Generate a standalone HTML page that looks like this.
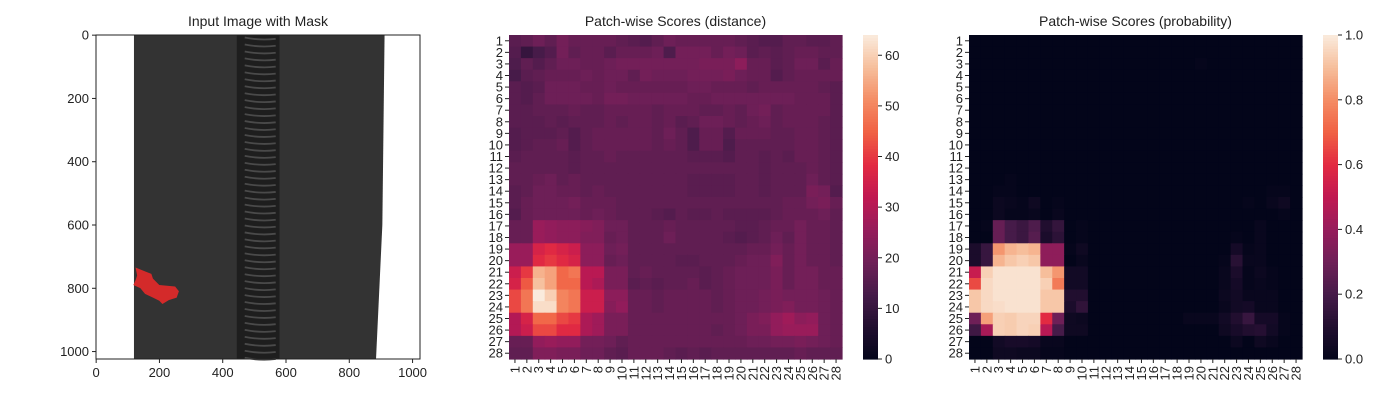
<!DOCTYPE html>
<html><head><meta charset="utf-8">
<style>
html,body{margin:0;padding:0;background:#fff;}
svg{display:block;font-family:"Liberation Sans",Arial,sans-serif;}
</style></head>
<body>
<svg id="fig" width="1400" height="400" viewBox="0 0 1400 400" xmlns="http://www.w3.org/2000/svg"></svg>
<script>
// ---------- data ----------
const rowLabels = [1,2,3,4,5,6,7,8,9,10,11,12,13,14,15,16,17,18,19,20,21,22,23,24,25,26,27,28];
const colLabels = [1,2,3,4,5,6,7,8,9,10,11,12,13,14,15,16,17,18,19,20,21,22,23,24,25,26,27,28];
const distTicks = [0,10,20,30,40,50,60];
const probTicks = [0.0,0.2,0.4,0.6,0.8,1.0];
const imgTicks = [0,200,400,600,800,1000];
const distMax = 64;
const distance = [
[16,17,19,17,20,18,18,18,18,17,16,15,17,19,18,18,18,18,18,17,16,15,15,17,17,16,16,17],
[15,10,13,15,20,17,18,18,16,18,18,18,19,14,20,20,20,18,20,19,16,17,16,17,18,18,17,17],
[14,17,15,17,19,19,18,18,19,20,20,20,20,20,20,20,21,21,21,24,18,18,16,17,19,19,16,18],
[13,16,17,18,18,18,19,18,19,19,17,20,19,19,19,20,20,20,21,19,18,18,15,17,18,18,18,18],
[16,15,16,19,19,19,18,18,19,18,18,18,18,18,18,19,19,18,18,18,17,18,18,18,18,18,17,16],
[16,15,17,19,19,19,19,18,20,20,19,19,19,19,19,18,18,19,19,19,19,19,19,19,18,18,18,16],
[16,16,17,17,17,18,17,17,18,18,18,18,17,18,18,18,17,17,18,17,19,20,17,18,18,18,18,16],
[16,16,16,17,16,17,17,17,18,17,18,18,17,18,16,17,19,19,18,17,18,19,17,18,18,18,17,16],
[15,16,16,16,17,15,17,18,18,18,18,18,17,19,17,14,18,18,15,18,18,18,17,17,18,18,17,16],
[15,16,17,17,18,15,17,18,18,18,18,18,17,18,17,14,18,18,14,17,17,17,17,17,18,18,17,16],
[16,17,17,17,17,16,17,17,18,17,17,17,17,17,17,16,16,16,15,17,17,16,17,16,18,18,17,16],
[17,17,17,17,17,16,17,17,17,17,17,17,17,17,17,17,17,17,17,17,17,16,17,17,17,18,17,16],
[17,17,18,19,17,18,17,17,17,17,17,17,17,17,17,16,16,16,16,17,17,16,17,17,17,19,17,16],
[16,17,19,19,18,18,17,18,17,17,17,17,17,17,17,16,16,16,16,17,17,16,17,17,17,21,20,15],
[16,18,19,19,19,20,18,18,18,17,17,17,17,17,17,17,17,17,17,17,17,17,17,18,18,20,21,18],
[15,18,19,19,19,19,18,19,18,17,17,17,16,15,17,16,16,17,16,16,16,16,17,18,18,18,19,17],
[18,18,26,25,24,24,23,22,19,19,17,17,17,18,17,17,17,17,17,16,16,17,18,18,20,18,18,17],
[18,18,26,25,24,24,22,22,18,19,17,17,17,19,17,17,17,17,16,15,16,17,19,17,20,18,18,17],
[26,26,36,38,36,34,24,24,19,20,17,17,17,17,17,17,17,17,17,17,18,18,20,18,20,18,18,17],
[26,26,38,40,38,36,24,24,18,19,17,17,17,17,16,16,17,17,17,18,19,19,22,18,20,18,18,17],
[34,40,56,54,46,48,31,31,21,21,17,18,17,17,17,17,16,17,18,19,19,19,21,18,20,20,18,18],
[36,44,58,54,46,46,31,29,21,21,16,17,16,17,17,18,16,17,18,19,19,19,21,18,20,20,18,18],
[42,48,64,60,50,48,34,34,24,24,18,18,17,18,18,18,18,17,18,19,19,20,21,20,20,20,19,18],
[42,48,62,62,50,48,34,34,23,25,18,18,17,18,18,18,18,17,18,19,19,20,21,22,20,20,19,18],
[30,36,46,46,42,40,29,27,21,21,18,18,18,18,18,18,18,18,18,19,21,22,25,27,24,25,19,18],
[30,34,42,42,38,38,29,27,21,21,18,18,18,18,18,18,18,17,18,19,21,21,25,26,26,26,19,18],
[18,18,25,26,25,25,20,20,19,17,18,18,18,18,18,18,18,18,18,18,19,19,20,20,21,20,19,18],
[17,17,22,22,21,21,19,19,17,16,18,18,18,17,16,17,16,17,17,17,17,17,17,17,18,17,17,17]
];
const probability = [
[0,0,0,0,0,0,0,0,0,0,0,0,0,0,0,0,0,0,0,0,0,0,0,0,0,0,0,0],
[0,0,0,0,0,0,0,0,0,0,0,0,0,0,0,0,0,0,0,0,0,0,0,0,0,0,0,0],
[0,0,0,0,0,0,0,0,0,0,0,0,0,0,0,0,0,0,0,0.01,0,0,0,0,0,0,0,0],
[0,0,0,0,0,0,0,0,0,0,0,0,0,0,0,0,0,0,0,0,0,0,0,0,0,0,0,0],
[0,0,0,0,0,0,0,0,0,0,0,0,0,0,0,0,0,0,0,0,0,0,0,0,0,0,0,0],
[0,0,0,0,0,0,0,0,0,0,0,0,0,0,0,0,0,0,0,0,0,0,0,0,0,0,0,0],
[0,0,0,0,0,0,0,0,0,0,0,0,0,0,0,0,0,0,0,0,0,0,0,0,0,0,0,0],
[0,0,0,0,0,0,0,0,0,0,0,0,0,0,0,0,0,0,0,0,0,0,0,0,0,0,0,0],
[0,0,0,0,0,0,0,0,0,0,0,0,0,0,0,0,0,0,0,0,0,0,0,0,0,0,0,0],
[0,0,0,0,0,0,0,0,0,0,0,0,0,0,0,0,0,0,0,0,0,0,0,0,0,0,0,0],
[0,0,0,0,0,0,0,0,0,0,0,0,0,0,0,0,0,0,0,0,0,0,0,0,0,0,0,0],
[0,0,0,0,0,0,0,0,0,0,0,0,0,0,0,0,0,0,0,0,0,0,0,0,0,0,0,0],
[0,0,0,0.01,0,0,0,0,0,0,0,0,0,0,0,0,0,0,0,0,0,0,0,0,0,0,0,0],
[0,0,0.01,0.01,0,0,0,0,0,0,0,0,0,0,0,0,0,0,0,0,0,0,0,0,0,0.01,0.01,0],
[0,0,0.03,0.02,0.01,0.04,0,0.01,0,0,0,0,0,0,0,0,0,0,0,0,0,0,0,0.01,0,0.02,0.04,0],
[0,0,0.03,0.01,0.01,0.02,0,0.02,0,0,0,0,0,0,0,0,0,0,0,0,0,0,0,0,0,0,0.01,0],
[0,0.01,0.28,0.2,0.17,0.22,0.1,0.15,0,0.01,0,0,0,0,0,0,0,0,0,0,0,0,0,0,0.02,0,0,0],
[0,0,0.28,0.2,0.17,0.24,0.08,0.13,0,0.01,0,0,0,0,0,0,0,0,0,0,0,0,0.01,0,0.02,0,0,0],
[0.08,0.16,0.82,0.88,0.9,0.88,0.38,0.38,0.01,0.04,0,0,0,0,0,0,0,0,0,0,0,0,0.06,0.01,0.02,0,0,0],
[0.08,0.16,0.88,0.92,0.94,0.92,0.38,0.38,0,0.02,0,0,0,0,0,0,0,0,0,0,0,0.01,0.12,0.02,0.02,0,0,0],
[0.52,0.94,0.98,0.98,0.98,0.98,0.9,0.82,0.05,0.05,0,0,0,0,0,0,0,0,0,0,0,0.02,0.08,0.01,0.03,0.01,0,0],
[0.66,0.96,0.98,0.98,0.98,0.98,0.94,0.76,0.05,0.05,0,0,0,0,0,0,0,0,0,0,0,0.02,0.06,0.01,0.02,0.01,0,0],
[0.92,0.96,0.98,0.98,0.98,0.98,0.92,0.92,0.1,0.1,0,0,0,0,0,0,0,0,0,0,0,0.03,0.05,0.02,0.02,0.02,0,0],
[0.92,0.96,0.97,0.98,0.98,0.98,0.92,0.92,0.08,0.14,0,0,0,0,0,0,0,0,0,0,0,0.02,0.05,0.06,0.02,0.02,0,0],
[0.3,0.84,0.94,0.93,0.95,0.95,0.6,0.3,0.04,0.03,0,0,0,0,0,0,0,0,0.02,0.02,0.02,0.05,0.1,0.16,0.06,0.06,0.01,0],
[0.18,0.44,0.94,0.93,0.95,0.94,0.48,0.2,0.04,0.04,0,0,0,0,0,0,0,0,0,0,0,0.04,0.07,0.1,0.11,0.05,0.01,0],
[0,0,0.05,0.07,0.07,0.06,0.02,0.02,0,0,0,0,0,0,0,0,0,0,0,0,0,0,0.03,0,0.04,0.02,0,0],
[0,0,0.04,0.04,0.03,0.03,0.01,0.01,0,0,0,0,0,0,0,0,0,0,0,0,0,0,0,0,0,0,0,0]
];
// mask blob outline in image pixel coords (x,y)
const maskX = [125,150,175,180,200,250,262,255,230,210,200,180,155,140,118,125,130];
const maskY = [735,745,755,770,790,795,810,830,838,850,840,830,818,800,790,775,760];

// ---------- helpers ----------
const NS = "http://www.w3.org/2000/svg";
const fig = document.getElementById('fig');
function el(tag, attrs, parent, text){
  const e = document.createElementNS(NS, tag);
  for (const k in attrs) e.setAttribute(k, attrs[k]);
  if (text !== undefined) e.textContent = text;
  (parent||fig).appendChild(e);
  return e;
}
const stops = [
 [0.0,[3,5,26]],[0.1,[33,14,47]],[0.2,[70,27,73]],[0.3,[110,31,87]],
 [0.4,[150,28,91]],[0.5,[192,24,82]],[0.6,[226,42,66]],[0.7,[240,96,67]],
 [0.8,[244,140,100]],[0.9,[246,190,155]],[1.0,[250,235,221]]];
function rocket(t){
  t=Math.max(0,Math.min(1,t));
  for(let i=1;i<stops.length;i++){
    if(t<=stops[i][0]){
      const a=stops[i-1],b=stops[i],f=(t-a[0])/(b[0]-a[0]);
      const c=a[1].map((v,j)=>Math.round(v+(b[1][j]-v)*f));
      return `rgb(${c[0]},${c[1]},${c[2]})`;
    }
  }
  return 'rgb(250,235,221)';
}

// ---------- panel 1: image ----------
(function(){
  const L=96,T=35,W=324,H=324, S=W/1024;
  const sx=v=>L+v*S, sy=v=>T+v*S;
  const g=el('g',{}, fig);
  
  
  el('text',{x:L+W/2,y:26,'text-anchor':'middle','font-size':14,fill:'#222'},g,'Input Image with Mask');
  const fab=el('polygon',{points:`${sx(120)},${sy(0)} ${sx(912)},${sy(0)} ${sx(905)},${sy(600)} ${sx(885)},${sy(1024)} ${sx(120)},${sy(1024)}`,fill:'#333333'},g);
   
  const tape=el('rect',{x:sx(445),y:T,width:sx(580)-sx(445),height:H,fill:'#1e1e1e'},g);
   
  for(let v=8;v<1024;v+=22){
    el('path',{d:`M${sx(470)},${sy(v)} Q${sx(520)},${sy(v+10)} ${sx(568)},${sy(v+4)}`,stroke:'#4a4a4a','stroke-width':1.8,fill:'none'},g);
  }
  const pts=maskX.map((x,i)=>`${sx(x)},${sy(maskY[i])}`).join(' ');
  const m=el('polygon',{points:pts,fill:'#d42a2a'},g);
   
  el('rect',{x:L,y:T,width:W,height:H,fill:'none',stroke:'#222','stroke-width':1},g);
  imgTicks.forEach(v=>{
    const x=sx(v+0.5), y=sy(v+0.5);
    el('line',{x1:x,y1:T+H,x2:x,y2:T+H+4,stroke:'#222'},g);
    el('text',{x:x,y:T+H+18,'text-anchor':'middle','font-size':13,fill:'#222'},g,String(v));
    el('line',{x1:L,y1:y,x2:L-4,y2:y,stroke:'#222'},g);
    el('text',{x:L-7,y:y+4.5,'text-anchor':'end','font-size':13,fill:'#222'},g,String(v));
  });
})();

// ---------- heatmaps ----------
function heatmap(name,title,data,vmax,L,cbL,ticks,fmt){
  const T=35,W=333,H=324;
  const cw=W/colLabels.length, ch=H/rowLabels.length;
  const g=el('g',{},fig);
  
  
  const t=el('text',{x:L+W/2,y:26,'text-anchor':'middle','font-size':14,fill:'#222'},g,title);
  
  
  data.forEach((row,r)=>row.forEach((v,c)=>{
    const cell=el('rect',{x:L+c*cw,y:T+r*ch,width:cw+0.6,height:ch+0.6,fill:rocket(v/vmax)},g);
    
    
  }));
  rowLabels.forEach((lab,r)=>{
    const y=T+(r+0.5)*ch;
    el('line',{x1:L,y1:y,x2:L-4,y2:y,stroke:'#222'},g);
    el('text',{x:L-6,y:y+4.5,'text-anchor':'end','font-size':13,fill:'#222'},g,String(lab));
  });
  colLabels.forEach((lab,c)=>{
    const x=L+(c+0.5)*cw;
    el('line',{x1:x,y1:T+H,x2:x,y2:T+H+4,stroke:'#222'},g);
    el('text',{x:0,y:0,'text-anchor':'end','font-size':13,fill:'#222',transform:`translate(${x+4.5},${T+H+7}) rotate(-90)`},g,String(lab));
  });
  const cb=el('g',{},g);
  
  
  const n=120;
  for(let i=0;i<n;i++){
    el('rect',{x:cbL,y:T+H-(i+1)*H/n,width:15,height:H/n+0.6,fill:rocket((i+0.5)/n)},cb);
  }
  ticks.forEach(v=>{
    const y=T+H-(v/vmax)*H;
    el('line',{x1:cbL+15,y1:y,x2:cbL+19,y2:y,stroke:'#222'},cb);
    el('text',{x:cbL+22,y:y+4.5,'font-size':13,fill:'#222'},cb,fmt(v));
  });
}
heatmap('distance-heatmap','Patch-wise Scores (distance)',distance,distMax,509,863,distTicks,v=>String(v));
heatmap('probability-heatmap','Patch-wise Scores (probability)',probability,1,969,1323,probTicks,v=>v.toFixed(1));
</script>
</body></html>
